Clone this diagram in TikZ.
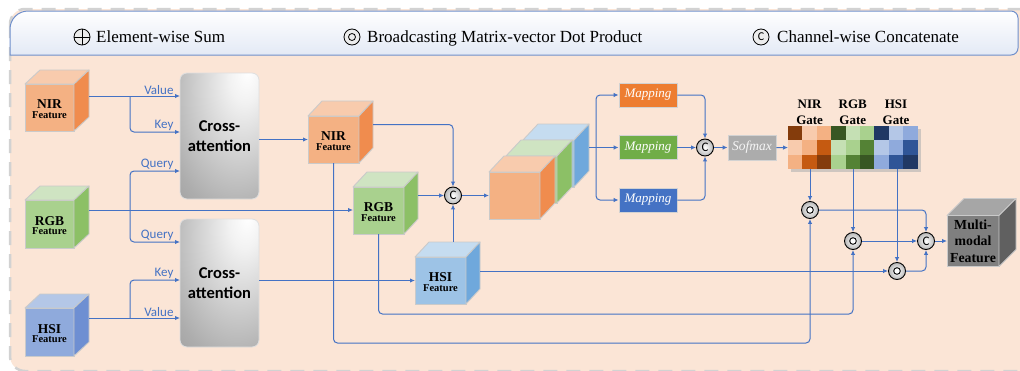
\documentclass[tikz,border=0pt]{standalone}
\usepackage{fontspec}
\setmainfont{Liberation Serif}
\newfontfamily\calfont{Carlito}
\usetikzlibrary{arrows.meta,calc}

\definecolor{peach}{HTML}{FBE5D6}
\definecolor{lnblue}{HTML}{4472C4}
\definecolor{hdr}{HTML}{E3E9F5}
\definecolor{hdrline}{HTML}{6F8FCB}
\definecolor{edgegray}{HTML}{CACACA}
\definecolor{nirF}{HTML}{F4B183}
\definecolor{nirT}{HTML}{F8CBAD}
\definecolor{nirS}{HTML}{F08C4E}
\definecolor{rgbF}{HTML}{A9D18E}
\definecolor{rgbT}{HTML}{CFE4C2}
\definecolor{rgbS}{HTML}{8CC066}
\definecolor{hsiF}{HTML}{8FAADC}
\definecolor{hsiT}{HTML}{B4C7E7}
\definecolor{hsiS}{HTML}{6E8FD2}
\definecolor{hsbF}{HTML}{9DC3E6}
\definecolor{hsbT}{HTML}{C5DCF0}
\definecolor{hsbS}{HTML}{6FA8DC}
\definecolor{mmF}{HTML}{7F7F7F}
\definecolor{mmT}{HTML}{A6A6A6}
\definecolor{mmS}{HTML}{606060}
\definecolor{mapO}{HTML}{ED7D31}
\definecolor{mapG}{HTML}{70AD47}
\definecolor{mapB}{HTML}{4472C4}
\definecolor{ND}{HTML}{843C0C}
\definecolor{NM}{HTML}{C55A11}
\definecolor{NA}{HTML}{F4B183}
\definecolor{NB}{HTML}{F8CBAD}
\definecolor{RD}{HTML}{385723}
\definecolor{RM}{HTML}{548235}
\definecolor{RA}{HTML}{A9D18E}
\definecolor{RB}{HTML}{C5E0B4}
\definecolor{HD}{HTML}{203864}
\definecolor{HM}{HTML}{2F5597}
\definecolor{HA}{HTML}{8FAADC}
\definecolor{HB}{HTML}{B4C7E7}
\definecolor{shA}{HTML}{F2F2F2}
\definecolor{shB}{HTML}{ADADAD}
\definecolor{shC}{HTML}{8C8C8C}
\definecolor{shD}{HTML}{787878}

\pgfdeclareradialshading{crossshade}{\pgfpoint{18bp}{26bp}}{%
  color(0bp)=(white); color(10bp)=(shA); color(45bp)=(shB); color(70bp)=(shC); color(100bp)=(shD)}

\newcommand\mycube[9]{%
  \node[cubefront, fill=#7F, minimum width=#3pt, minimum height=#4pt] (#1) at #2 {};
  \filldraw[cubeedge, fill=#7T] (#1.north west) -- ++(#5,#6) -- ++(#3,0) -- (#1.north east) -- cycle;
  \filldraw[cubeedge, fill=#7S] (#1.north east) -- ++(#5,#6) -- ++(0,#4) -- (#1.south east) -- cycle;
  \coordinate (#1-be) at ([shift={(#5,#6)}]#1.east);
  \coordinate (#1-bn) at ([shift={(#5,#6)}]#1.north);
  \node[cubetext, #9] (#1-t) at ([yshift=-1.5pt]#1.center) {#8};
}

\begin{document}
\begin{tikzpicture}[x=1pt,y=-1pt,
  cubefront/.style={draw=edgegray, line width=0.9pt, inner sep=0pt, outer sep=0pt},
  cubeedge/.style={draw=edgegray, line width=0.9pt, line join=round},
  cubetext/.style={align=center, inner sep=0pt, font=\bfseries\fontsize{10.5}{9.5}\selectfont},
  arr/.style={draw=lnblue, line width=1pt, -{Latex[length=5pt,width=4.5pt]}},
  ln/.style={draw=lnblue, line width=1pt},
  lbl/.style={font=\calfont\fontsize{13}{13}\selectfont, text=lnblue, inner sep=1pt, anchor=south east, xshift=-5pt},
  cross/.style={rounded corners=7pt, draw=gray!25, line width=0.8pt, shade, shading=crossshade, font=\calfont\bfseries\fontsize{16.5}{20}\selectfont, align=center, inner sep=0pt, minimum width=79pt},
  op/.style={circle, draw=black, line width=0.9pt, minimum size=17pt, inner sep=0pt, inner color=white, outer color=gray!55, font=\calfont\fontsize{13}{13}\selectfont},
  dotop/.style={op, path picture={\draw[black, line width=0.9pt, fill=white] (path picture bounding box.center) circle (3.3pt);}},
  lgsym/.style={circle, draw=black, line width=0.8pt, minimum size=16pt, inner sep=0pt, fill=gray!15, font=\calfont\fontsize{12}{12}\selectfont},
  legtxt/.style={inner sep=0pt, font=\fontsize{17}{17}\selectfont},
  mapbox/.style={draw=gray!35, line width=0.8pt, minimum width=58pt, minimum height=24pt, inner sep=0pt, font=\itshape\fontsize{13}{13}\selectfont, text=white},
  gatelbl/.style={align=center, inner sep=0pt, anchor=south, font=\bfseries\fontsize{13}{16}\selectfont}
]
\useasboundingbox (0,0) rectangle (1020,370);

% background panel
\draw[fill=peach, draw=gray!35, line width=2.5pt, dash pattern=on 14pt off 9pt, rounded corners=15pt] (10,9) rectangle (1045,371);
% header
\shade[top color=white, bottom color=hdr] (10,55) [rounded corners=18pt] -- (10,11) [rounded corners=7pt] -- (1018,11) -- (1018,55) [sharp corners] -- cycle;
\draw[hdrline, line width=1pt] (10,55) [rounded corners=18pt] -- (10,11) [rounded corners=7pt] -- (1018,11) -- (1018,55) [sharp corners] -- cycle;

% legend
\node[lgsym, path picture={\draw[black, line width=0.8pt] (path picture bounding box.north) -- (path picture bounding box.south) (path picture bounding box.west) -- (path picture bounding box.east);}] (lg1) at (82,37) {};
\node[legtxt, anchor=base west] (lt1) at (96,42.5) {Element-wise Sum};
\node[lgsym, path picture={\draw[black, line width=0.8pt] (path picture bounding box.center) circle (3.5pt);}] (lg2) at (352,37) {};
\node[legtxt, anchor=base west] (lt2) at (367,42.5) {Broadcasting Matrix-vector Dot Product};
\node[lgsym] (lg3) at (761,37) {C};
\node[legtxt, anchor=base west] (lt3) at (777,42.5) {Channel-wise Concatenate};

% input cubes
\mycube{nirA}{(49.5,107.5)}{49}{47}{15}{-14}{nir}{{\fontsize{13.5}{9.5}\selectfont NIR}\\Feature}{}
\mycube{rgbA}{(49.5,224)}{49}{48}{15}{-14}{rgb}{{\fontsize{13.5}{9.5}\selectfont RGB}\\Feature}{}
\mycube{hsiA}{(49.5,332)}{49}{48}{15}{-14}{hsi}{{\fontsize{13.5}{9.5}\selectfont HSI}\\Feature}{}

% cross attention
\node[cross, minimum height=126pt] (ca1) at (219.5,136) {Cross-\\attention};
\node[cross, minimum height=128pt] (ca2) at (219.5,283) {Cross-\\attention};

% middle cubes
\mycube{nirB}{(333.5,139.5)}{51}{47}{14}{-15}{nir}{{\fontsize{13.5}{9.5}\selectfont NIR}\\Feature}{}
\mycube{rgbB}{(378.5,210.5)}{51}{47}{14}{-15}{rgb}{{\fontsize{13.5}{9.5}\selectfont RGB}\\Feature}{}
\mycube{hsiB}{(440.5,280.5)}{51}{47}{14}{-15}{hsb}{{\fontsize{13.5}{9.5}\selectfont HSI}\\Feature}{}

% stacked cubes
\mycube{stB}{(548.5,163.5)}{51}{47}{15}{-16}{hsb}{}{}
\mycube{stG}{(531.5,179.5)}{51}{47}{15}{-16}{rgb}{}{}
\mycube{stO}{(514.5,195.5)}{51}{47}{15}{-16}{nir}{}{}

% operators
\node[op] (c1) at (453,195.5) {C};
\node[op] (c2) at (705,147.5) {C};
\node[op] (c3) at (926,241) {C};
\node[dotop] (d1) at (810,210) {};
\node[dotop] (d2) at (853,241) {};
\node[dotop] (d3) at (897,271) {};

% mapping and softmax
\node[mapbox, fill=mapO] (m1) at (648,95) {Mapping};
\node[mapbox, fill=mapG] (m2) at (648,147.5) {Mapping};
\node[mapbox, fill=mapB] (m3) at (648,200) {Mapping};
\node[draw=gray!35, line width=0.8pt, fill=gray!65, minimum width=48pt, minimum height=25pt, inner sep=0pt, font=\itshape\fontsize{13.5}{13.5}\selectfont, text=gray!8] (sof) at (752,147.5) {Sofmax};

% gate grid
\fill[black!30, opacity=0.6] (790.5,128.5) rectangle (920.5,171.5);
\foreach \g [count=\gi from 0] in {N,R,H}{
  \foreach \r/\cols in {0/{D,B,A},1/{B,A,M},2/{A,M,D}}{
    \foreach \cc [count=\ci from 0] in \cols {
      \fill[fill=\g\cc] ({788+14.4*(3*\gi+\ci)},{126+14.4*\r}) rectangle ++(14.4,14.4);
    }
  }
}
\node[inner sep=0pt, outer sep=0pt, minimum width=129.6pt, minimum height=43.2pt, anchor=north west] (grid) at (788,126) {};
\node[gatelbl] (gl1) at (809.6,125) {NIR\\Gate};
\node[gatelbl] (gl2) at (852.8,125) {RGB\\Gate};
\node[gatelbl] (gl3) at (896,125) {HSI\\Gate};

% output cube
\mycube{mm}{(973,241)}{52}{51}{17}{-17}{mm}{Multi-\\modal\\Feature}{font=\bfseries\fontsize{13.8}{16.5}\selectfont, yshift=1.5pt}

% coordinates
\coordinate (v1) at (180,96);
\coordinate (k1) at (180,132);
\coordinate (q1) at (180,171);
\coordinate (q2) at (180,242);
\coordinate (k2) at (180,280);
\coordinate (v2) at (180,318);
\coordinate (ns) at (130,96);
\coordinate (qs) at (130,210);
\coordinate (hs) at (130,318);
\coordinate (sp) at (596,147.5);
\coordinate (y343) at (0,343);
\coordinate (y314) at (0,314);

% left connectors
\draw[arr] (nirA-be |- v1) -- (v1) node[lbl] {Value};
\draw[arr, rounded corners=4pt] (ns) |- (k1) node[lbl] {Key};
\draw[arr, rounded corners=4pt] (qs) |- (q1) node[lbl] {Query};
\draw[arr, rounded corners=4pt] (qs) |- (q2) node[lbl] {Query};
\draw[arr] (rgbA-be |- qs) -- (rgbA-be -| rgbB.west);
\draw[arr] (hsiA-be |- v2) -- (v2) node[lbl] {Value};
\draw[arr, rounded corners=4pt] (hs) |- (k2) node[lbl] {Key};

\draw[arr] (ca1.east |- nirB.west) -- (nirB.west);
\draw[arr] (ca2.east |- hsiB.west) -- (hsiB.west);

% concat 1
\draw[arr, rounded corners=4pt] (nirB-be) -| (c1.north);
\draw[arr] (rgbB-be) -- (c1.west);
\draw[arr] (c1 |- hsiB-bn) -- (c1.south);
\draw[arr] (c1.east) -- (stO.west);

% mapping branches
\draw[ln] (stB-be) -- (sp);
\draw[arr, rounded corners=4pt] (sp) |- (m1.west);
\draw[arr] (sp) -- (m2.west);
\draw[arr, rounded corners=4pt] (sp) |- (m3.west);
\draw[arr, rounded corners=4pt] (m1.east) -| (c2.north);
\draw[arr] (m2.east) -- (c2.west);
\draw[arr, rounded corners=4pt] (m3.east) -| (c2.south);
\draw[arr] (c2.east) -- (sof.west);
\draw[arr] (sof.east) -- (grid.west);

% gates
\draw[arr] (grid.south -| d1) -- (d1.north);
\draw[arr] (grid.south -| d2) -- (d2.north);
\draw[arr] (grid.south -| d3) -- (d3.north);

% feature paths to dot products
\draw[arr, rounded corners=4pt] (nirB.south) -- (nirB.south |- y343) -| (d1.south);
\draw[arr, rounded corners=4pt] (rgbB.south) -- (rgbB.south |- y314) -| (d2.south);
\draw[arr] (hsiB-be |- d3) -- (d3.west);

% final concat
\draw[arr, rounded corners=4pt] (d1.east) -| (c3.north);
\draw[arr] (d2.east) -- (c3.west);
\draw[arr, rounded corners=4pt] (d3.east) -| (c3.south);
\draw[arr] (c3.east) -- (mm.west);
\end{tikzpicture}
\end{document}
